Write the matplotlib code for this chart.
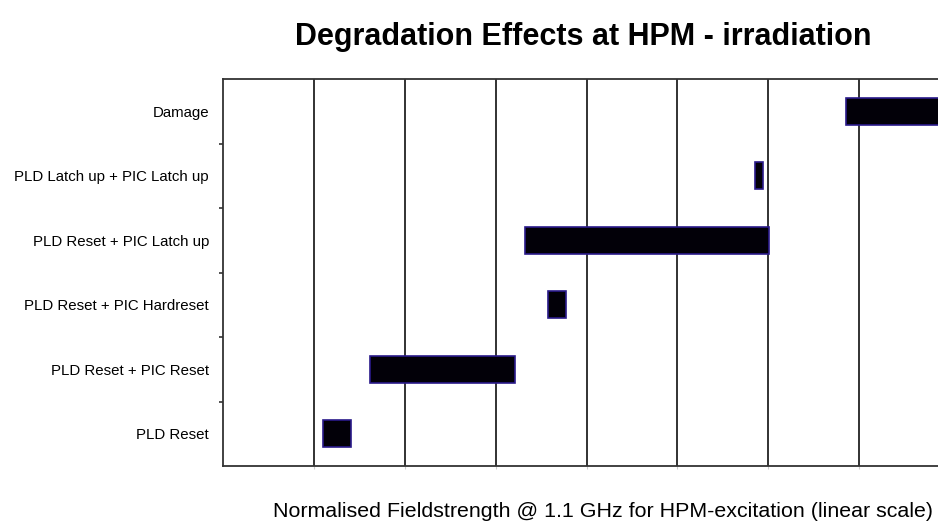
import matplotlib
matplotlib.use('Agg')
import matplotlib.pyplot as plt
from matplotlib.patches import Rectangle

plt.rcParams['font.family'] = ['Liberation Sans', 'DejaVu Sans']

# effect categories, bottom to top
effects = ['PLD Reset', 'PLD Reset + PIC Reset', 'PLD Reset + PIC Hardreset',
           'PLD Reset + PIC Latch up', 'PLD Latch up + PIC Latch up', 'Damage']
# start and end of each range (normalised field strength, grid units)
start = [1.10, 1.62, 3.58, 3.32, 5.85, 6.86]
end = [1.41, 3.21, 3.77, 6.01, 5.94, 8.3]

titel = 'Degradation Effects at HPM - irradiation'
x_label = 'Normalised Fieldstrength @ 1.1 GHz for HPM-excitation (linear scale)'

bar_h = 0.42
fill_col = '#020008'
edge_col = '#2a1a8a'
grid_col = '#222222'

fig = plt.figure(figsize=(9.38, 5.27), dpi=100)
ax = fig.add_axes([0.2377, 0.1157, 0.7623 + 0.01, 0.7343])

for i, (s, e) in enumerate(zip(start, end)):
    ax.add_patch(Rectangle((s, i - bar_h / 2), e - s, bar_h,
                           facecolor=fill_col, edgecolor=edge_col, lw=1.2, zorder=3))

ax.set_xlim(0, 7.97)
ax.set_ylim(-0.5, len(effects) - 0.5)

ax.set_xticks(range(1, 8))
ax.set_xticklabels([])
ax.tick_params(axis='x', length=2, color='#cccccc')
ax.grid(axis='x', color=grid_col, lw=1.3, zorder=1)

ax.set_yticks(range(len(effects)))
ax.set_yticklabels(effects, fontsize=10.8)
ax.tick_params(axis='y', which='major', length=0, pad=10)
ax.set_yticks([i + 0.5 for i in range(len(effects) - 1)], minor=True)
ax.tick_params(axis='y', which='minor', length=3, width=1.2, color='#333333')

for side in ['left', 'bottom', 'top']:
    ax.spines[side].set_linewidth(1.3)
    ax.spines[side].set_color('#333333')
ax.spines['right'].set_visible(False)

fig.text(0.6215, 0.930, titel, ha='center', va='center', fontsize=22, fontweight='bold')
fig.text(0.6425, 0.030, x_label, ha='center', va='center', fontsize=15.4)

fig.savefig('out.png', dpi=100, facecolor='white')
